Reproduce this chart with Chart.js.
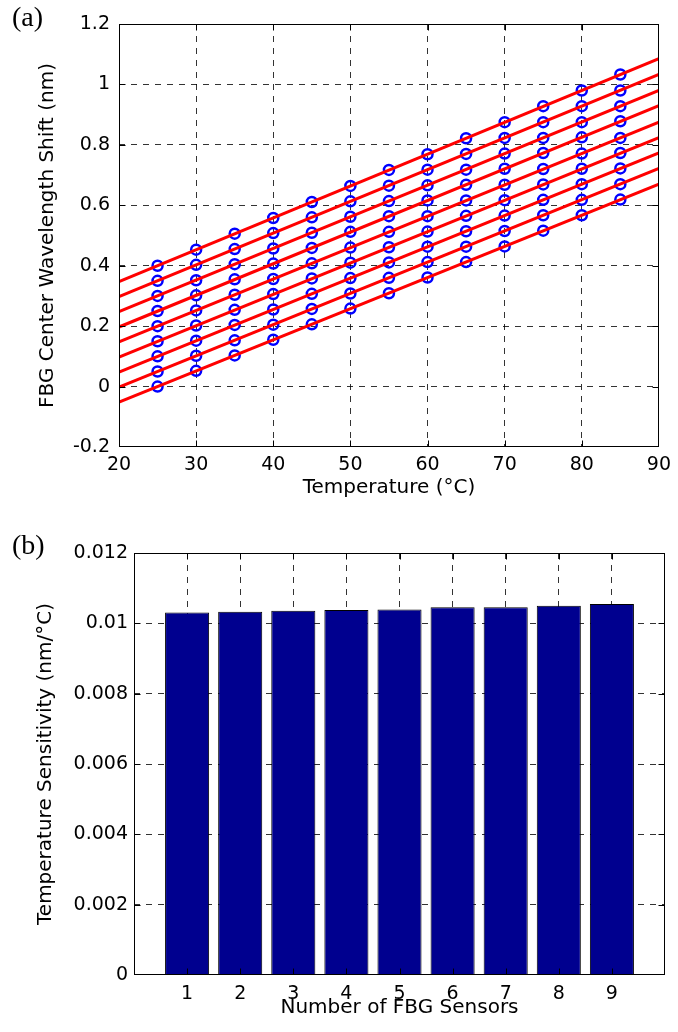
<!DOCTYPE html>
<html>
<head>
<meta charset="utf-8">
<script src="https://cdn.jsdelivr.net/npm/chart.js@4.4.1/dist/chart.umd.min.js"></script>
<style>
  html, body { margin: 0; padding: 0; background: #fff; }
  body { width: 678px; height: 1032px; position: relative; overflow: hidden; }
  .panel { position: absolute; left: 0; }
</style>
</head>
<body>
<div class="panel" style="top:0"><canvas id="shiftChart" width="678" height="510"></canvas></div>
<div class="panel" style="top:520px"><canvas id="sensChart" width="678" height="512"></canvas></div>
<script>
// temperature steps (deg C)
var temps = [25, 30, 35, 40, 45, 50, 55, 60, 65, 70, 75, 80, 85];

// centre wavelength shift of each grating at those temperatures (nm)
var fbg1 = [0.000, 0.052, 0.103, 0.155, 0.206, 0.258, 0.309, 0.361, 0.412, 0.464, 0.516, 0.567, 0.619];
var fbg2 = [0.050, 0.102, 0.153, 0.205, 0.257, 0.308, 0.360, 0.412, 0.463, 0.515, 0.567, 0.618, 0.670];
var fbg3 = [0.100, 0.152, 0.204, 0.255, 0.307, 0.359, 0.411, 0.463, 0.514, 0.566, 0.618, 0.670, 0.722];
var fbg4 = [0.150, 0.202, 0.254, 0.306, 0.358, 0.410, 0.461, 0.513, 0.565, 0.617, 0.669, 0.721, 0.773];
var fbg5 = [0.200, 0.252, 0.304, 0.356, 0.408, 0.460, 0.512, 0.564, 0.616, 0.668, 0.720, 0.771, 0.823];
var fbg6 = [0.250, 0.302, 0.355, 0.407, 0.459, 0.512, 0.564, 0.616, 0.668, 0.721, 0.773, 0.825, 0.878];
var fbg7 = [0.300, 0.352, 0.405, 0.457, 0.509, 0.562, 0.614, 0.666, 0.718, 0.771, 0.823, 0.875, 0.928];
var fbg8 = [0.350, 0.403, 0.455, 0.508, 0.560, 0.613, 0.665, 0.718, 0.770, 0.823, 0.875, 0.928, 0.980];
var fbg9 = [0.400, 0.453, 0.506, 0.558, 0.611, 0.664, 0.717, 0.769, 0.822, 0.875, 0.928, 0.980, 1.033];
var shiftData = [fbg1, fbg2, fbg3, fbg4, fbg5, fbg6, fbg7, fbg8, fbg9];

// linear fit per sensor: slope = temperature sensitivity (nm/C), intercept (nm)
var sensors = [1, 2, 3, 4, 5, 6, 7, 8, 9];
var sensitivity = [0.01031, 0.01033, 0.01036, 0.01038, 0.01039, 0.01046, 0.01046, 0.01050, 0.01055];
var fitIntercept = [-0.258, -0.208, -0.159, -0.110, -0.060, -0.012, 0.039, 0.088, 0.136];

var tickFont = { family: 'DejaVu Sans', size: 19 };
var titleFont = { family: 'DejaVu Sans', size: 20 };
var gridDash = [6, 6];

// dashed grid, but nothing on the outer edges (the box goes there)
function gridColor(c) {
  var last = c.scale.ticks.length - 1;
  return (c.index === 0 || c.index === last) ? 'rgba(0,0,0,0)' : 'rgba(0,0,0,0.8)';
}

function trimNum(v, d) { return String(Number(v.toFixed(d))); }

// box round the plot area, inward ticks, and the panel letter
var framePlugin = {
  id: 'frame',
  afterDraw: function (chart, args, opts) {
    var ctx = chart.ctx, a = chart.chartArea;
    var xs = chart.scales.x, ys = chart.scales.y;
    var L = Math.round(a.left) + 0.5, R = Math.round(a.right) - 0.5;
    var T = Math.round(a.top) + 0.5, B = Math.round(a.bottom) - 0.5;
    ctx.save();
    ctx.setLineDash([]);
    ctx.strokeStyle = '#000';
    ctx.lineWidth = 1;
    ctx.beginPath();
    xs.ticks.forEach(function (t) {
      if (t.value <= xs.min || t.value >= xs.max) return;
      var px = Math.round(xs.getPixelForValue(t.value)) + 0.5;
      ctx.moveTo(px, B); ctx.lineTo(px, B - 6);
      ctx.moveTo(px, T); ctx.lineTo(px, T + 6);
    });
    ys.ticks.forEach(function (t) {
      if (t.value <= ys.min || t.value >= ys.max) return;
      var py = Math.round(ys.getPixelForValue(t.value)) + 0.5;
      ctx.moveTo(L, py); ctx.lineTo(L + 6, py);
      ctx.moveTo(R, py); ctx.lineTo(R - 6, py);
    });
    ctx.stroke();
    ctx.strokeRect(L, T, R - L, B - T);
    ctx.fillStyle = '#000';
    ctx.font = '28px "Liberation Serif"';
    ctx.textBaseline = 'top';
    ctx.fillText(opts.letter, opts.x, opts.y);
    ctx.restore();
  }
};

// panel (a): wavelength shift vs temperature with fitted lines
var shiftSets = [];
shiftData.forEach(function (vals, k) {
  shiftSets.push({
    data: [
      { x: 20, y: sensitivity[k] * 20 + fitIntercept[k] },
      { x: 90, y: sensitivity[k] * 90 + fitIntercept[k] }
    ],
    showLine: true,
    borderColor: '#ff0000',
    borderWidth: 3,
    pointRadius: 0,
    order: 0
  });
  shiftSets.push({
    data: temps.map(function (t, i) { return { x: t, y: vals[i] }; }),
    showLine: false,
    pointStyle: 'circle',
    pointRadius: 5,
    pointBorderWidth: 2.5,
    pointBorderColor: '#0000ff',
    pointBackgroundColor: 'rgba(0,0,0,0)',
    order: 1
  });
});

new Chart(document.getElementById('shiftChart'), {
  type: 'scatter',
  data: { datasets: shiftSets },
  plugins: [framePlugin],
  options: {
    responsive: false,
    animation: false,
    devicePixelRatio: 1,
    layout: { padding: { left: 0, right: 13, top: 24, bottom: 0 } },
    plugins: {
      legend: { display: false },
      tooltip: { enabled: false },
      frame: { letter: '(a)', x: 12, y: 5 }
    },
    scales: {
      x: {
        type: 'linear', min: 20, max: 90,
        afterFit: function (s) { s.height = 63; },
        ticks: { stepSize: 10, color: '#000', font: tickFont, padding: 7, maxRotation: 0 },
        grid: { color: gridColor, drawTicks: false },
        border: { display: false, dash: gridDash },
        title: { display: true, text: 'Temperature (\u00B0C)', color: '#000', font: titleFont, padding: { top: 0, bottom: 10 } }
      },
      y: {
        type: 'linear', min: -0.2, max: 1.2,
        afterFit: function (s) { s.width = 119; },
        ticks: { stepSize: 0.2, color: '#000', font: tickFont, padding: 9,
          callback: function (v) { return trimNum(v, 1); } },
        grid: { color: gridColor, drawTicks: false },
        border: { display: false, dash: gridDash },
        title: { display: true, text: 'FBG Center Wavelength Shift (nm)', color: '#000', font: titleFont, padding: { top: 36, bottom: 0 } }
      }
    }
  }
});

// panel (b): sensitivity of each sensor
new Chart(document.getElementById('sensChart'), {
  type: 'bar',
  data: {
    datasets: [{
      data: sensors.map(function (n, i) { return { x: n, y: sensitivity[i] }; }),
      backgroundColor: '#00008f',
      borderColor: '#000',
      borderWidth: 1,
      barPercentage: 0.83,
      categoryPercentage: 1
    }]
  },
  plugins: [framePlugin],
  options: {
    responsive: false,
    animation: false,
    devicePixelRatio: 1,
    layout: { padding: { left: 0, right: 13, top: 33, bottom: 0 } },
    plugins: {
      legend: { display: false },
      tooltip: { enabled: false },
      frame: { letter: '(b)', x: 12, y: 13 }
    },
    scales: {
      x: {
        type: 'linear', min: 0, max: 10, offset: false,
        afterFit: function (s) { s.height = 57; },
        ticks: { stepSize: 1, color: '#000', font: tickFont, padding: 8, maxRotation: 0,
          callback: function (v) { return (v >= 1 && v <= 9) ? String(v) : ''; } },
        grid: { color: gridColor, drawTicks: false, offset: false },
        border: { display: false, dash: gridDash },
        title: { display: true, text: 'Number of FBG Sensors', color: '#000', font: titleFont, padding: { top: 0, bottom: 12 } }
      },
      y: {
        type: 'linear', min: 0, max: 0.012,
        afterFit: function (s) { s.width = 134; },
        ticks: { stepSize: 0.002, color: '#000', font: tickFont, padding: 6,
          callback: function (v) { return trimNum(v, 3); } },
        grid: { color: gridColor, drawTicks: false },
        border: { display: false, dash: gridDash },
        title: { display: true, text: 'Temperature Sensitivity (nm/\u00B0C)', color: '#000', font: titleFont, padding: { top: 34, bottom: 0 } }
      }
    }
  }
});
</script>
</body>
</html>
